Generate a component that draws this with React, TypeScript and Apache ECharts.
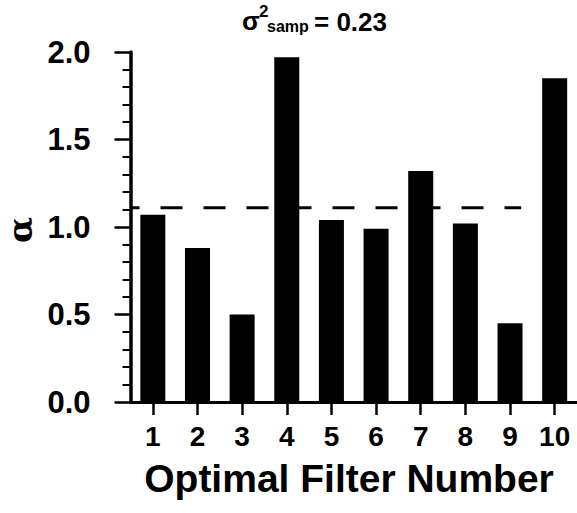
import React, { useEffect, useRef } from "react";
import * as echarts from "echarts";

const categories = ["1", "2", "3", "4", "5", "6", "7", "8", "9", "10"];
const alphaValues = [1.07, 0.88, 0.5, 1.97, 1.04, 0.99, 1.32, 1.02, 0.45, 1.85];
const thresholdLine = [
  [0.5, 1.11],
  [9.25, 1.11],
];
const yTicks = { min: 0, max: 2, interval: 0.5 };
const xTitle = "Optimal Filter Number";
const yTitle = "α";

const FONT = "'Liberation Sans', Arial, Helvetica, sans-serif";

export default function App() {
  const ref = useRef<HTMLDivElement>(null);
  useEffect(() => {
    document.body.style.margin = "0";
    const chart = echarts.init(ref.current!, null, { renderer: "svg" });
    chart.setOption({
      animation: false,
      backgroundColor: "#fff",
      grid: { left: 130.5, right: -4.5, top: 52, bottom: 111, containLabel: false },
      xAxis: [
        {
          type: "category",
          data: categories,
          boundaryGap: true,
          axisLine: { show: true, lineStyle: { color: "#000", width: 3 } },
          axisTick: { show: true, alignWithLabel: true, length: 13, lineStyle: { color: "#000", width: 2.5 } },
          axisLabel: { color: "#000", fontSize: 28, fontWeight: "bold", fontFamily: FONT, margin: 20 },
          splitLine: { show: false },
        },
        {
          type: "value",
          min: 0.5,
          max: 10.5,
          show: false,
        },
      ],
      yAxis: {
        type: "value",
        min: yTicks.min,
        max: yTicks.max,
        interval: yTicks.interval,
        axisLine: { show: true, lineStyle: { color: "#000", width: 3.5 } },
        axisTick: { show: true, inside: false, length: 16, lineStyle: { color: "#000", width: 2.5 } },
        minorTick: { show: true, splitNumber: 5, length: 8, lineStyle: { color: "#000", width: 2 } },
        axisLabel: {
          color: "#000",
          fontSize: 31,
          fontWeight: "bold",
          fontFamily: FONT,
          margin: 40,
          formatter: (v: number) => v.toFixed(1),
        },
        splitLine: { show: false },
      },
      series: [
        {
          type: "line",
          xAxisIndex: 1,
          data: thresholdLine,
          symbol: "none",
          z: 1,
          lineStyle: { color: "#000", width: 3, type: [22, 21], dashOffset: 12.6 },
        },
        {
          type: "bar",
          xAxisIndex: 0,
          data: alphaValues,
          barWidth: 25,
          z: 3,
          itemStyle: { color: "#000" },
        },
      ],
      graphic: [
        {
          type: "text",
          x: 349,
          y: 478,
          style: {
            text: xTitle,
            fill: "#000",
            font: `bold 39px ${FONT}`,
            textAlign: "center",
            textVerticalAlign: "middle",
          },
        },
        {
          type: "text",
          x: 20,
          y: 230,
          rotation: Math.PI / 2,
          style: {
            text: yTitle,
            fill: "#000",
            font: `bold 34px 'DejaVu Serif', 'Liberation Serif', serif`,
            textAlign: "center",
            textVerticalAlign: "middle",
          },
        },
        {
          type: "text",
          x: 242,
          y: 21.3,
          style: { text: "σ", fill: "#000", font: `bold 26px ${FONT}`, textAlign: "left", textVerticalAlign: "middle" },
        },
        {
          type: "text",
          x: 259,
          y: 11,
          style: { text: "2", fill: "#000", font: `bold 17px ${FONT}`, textAlign: "left", textVerticalAlign: "middle" },
        },
        {
          type: "text",
          x: 267,
          y: 26.5,
          style: { text: "samp", fill: "#000", font: `bold 16px ${FONT}`, textAlign: "left", textVerticalAlign: "middle" },
        },
        {
          type: "text",
          x: 314,
          y: 22.3,
          style: { text: "= 0.23", fill: "#000", font: `bold 26px ${FONT}`, textAlign: "left", textVerticalAlign: "middle" },
        },
      ],
    });
    return () => chart.dispose();
  }, []);
  return <div ref={ref} style={{ width: 577, height: 513 }} />;
}
